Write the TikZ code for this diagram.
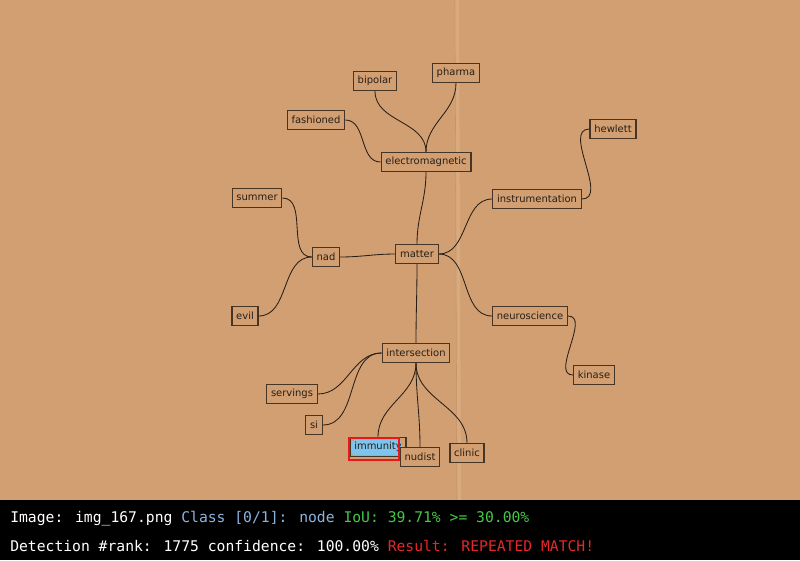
\documentclass[tikz,border=0pt]{standalone}
\usepackage{fontspec}
\setmainfont{DejaVu Sans}
\newfontfamily\barfont{DejaVu Sans Mono}
\usetikzlibrary{positioning}
\definecolor{paperc}{RGB}{209,159,114}
\definecolor{foldc}{RGB}{226,184,142}
\definecolor{creasec}{RGB}{180,134,94}
\definecolor{inkc}{RGB}{40,30,22}
\definecolor{framec}{RGB}{70,52,36}
\definecolor{hitc}{RGB}{126,196,236}
\definecolor{boxred}{RGB}{232,24,24}
\definecolor{clsc}{RGB}{140,180,225}
\definecolor{iouc}{RGB}{70,200,70}
\definecolor{resc}{RGB}{230,40,40}
\tikzset{
  term/.style={draw=framec, line width=0.9pt, fill=paperc, text=inkc, inner xsep=3pt,
               minimum height=0.47cm, font=\fontsize{7.1}{8}\selectfont},
  link/.style={draw=inkc, line width=0.6pt},
  barline/.style={anchor=base west, inner sep=0pt, font=\barfont\fontsize{10.45}{12}\selectfont},
}

\begin{document}
\begin{tikzpicture}[x=0.025cm, y=-0.025cm]
  \useasboundingbox (0,0) rectangle (800,560);
  % paper and its fold
  \fill[paperc] (0,0) rectangle (800,500);
  \fill[foldc, opacity=0.45] (455,0) -- (459,0) -- (461,500) -- (457,500) -- cycle;
  \draw[creasec, opacity=0.5, line width=0.4pt] (455,0) -- (457,500);

  % highlight under the detected node
  \fill[hitc, rounded corners=3pt] (351,440) rectangle (402,455);

  % terms
  \node[term] (bipolar) at (375,81) {bipolar};
  \node[term] (pharma) at (456,73) {pharma};
  \node[term] (fashioned) at (316,120) {fashioned};
  \node[term] (em) at (426,162) {electromagnetic};
  \node[term] (hewlett) at (613,129) {hewlett};
  \node[term] (summer) at (257,198) {summer};
  \node[term] (instr) at (537,199) {instrumentation};
  \node[term] (nad) at (326,257) {nad};
  \node[term] (matter) at (417,254) {matter};
  \node[term] (evil) at (245,316) {evil};
  \node[term] (neuro) at (530,316) {neuroscience};
  \node[term] (inter) at (416,353) {intersection};
  \node[term] (kinase) at (594,375) {kinase};
  \node[term] (servings) at (292,394) {servings};
  \node[term] (si) at (314,425) {si};
  \node[term, fill=none] (immunity) at (378,447) {immunity};
  \node[term] (nudist) at (420,457) {nudist};
  \node[term] (clinic) at (467,453) {clinic};

  % links
  \foreach \t in {bipolar, pharma}
    \draw[link] (em.north) to[out=90, in=-90] (\t.south);
  \draw[link] (em.west) to[out=180, in=0] (fashioned.east);
  \draw[link] (matter.north) to[out=90, in=-90] (em.south);
  \foreach \t in {instr, neuro}
    \draw[link] (matter.east) to[out=0, in=180] (\t.west);
  \draw[link] (matter.west) to[out=180, in=0] (nad.east);
  \foreach \t in {summer, evil}
    \draw[link] (nad.west) to[out=180, in=0] (\t.east);
  \draw[link] (instr.east) to[out=0, in=180] (hewlett.west);
  \draw[link] (neuro.east) to[out=0, in=180] (kinase.west);
  \draw[link] (matter.south) to[out=-90, in=90] (inter.north);
  \foreach \t in {servings, si}
    \draw[link] (inter.west) to[out=180, in=0] (\t.east);
  \foreach \t in {immunity, nudist, clinic}
    \draw[link] (inter.south) to[out=-90, in=90] (\t.north);

  % detection box
  \draw[boxred, line width=2.1pt] (349,438) rectangle (399,460);

  % result bar
  \fill[black] (0,500) rectangle (800,560);
  \node[barline] (bar1) at (10,522)
    {\textcolor{white}{Image: img\_167.png} \textcolor{clsc}{Class [0/1]: node} \textcolor{iouc}{IoU: 39.71\% >= 30.00\%}};
  \node[barline] (bar2) at (10,551)
    {\textcolor{white}{Detection \#rank: 1775 confidence: 100.00\%} \textcolor{resc}{Result: REPEATED MATCH!}};
\end{tikzpicture}
\end{document}
